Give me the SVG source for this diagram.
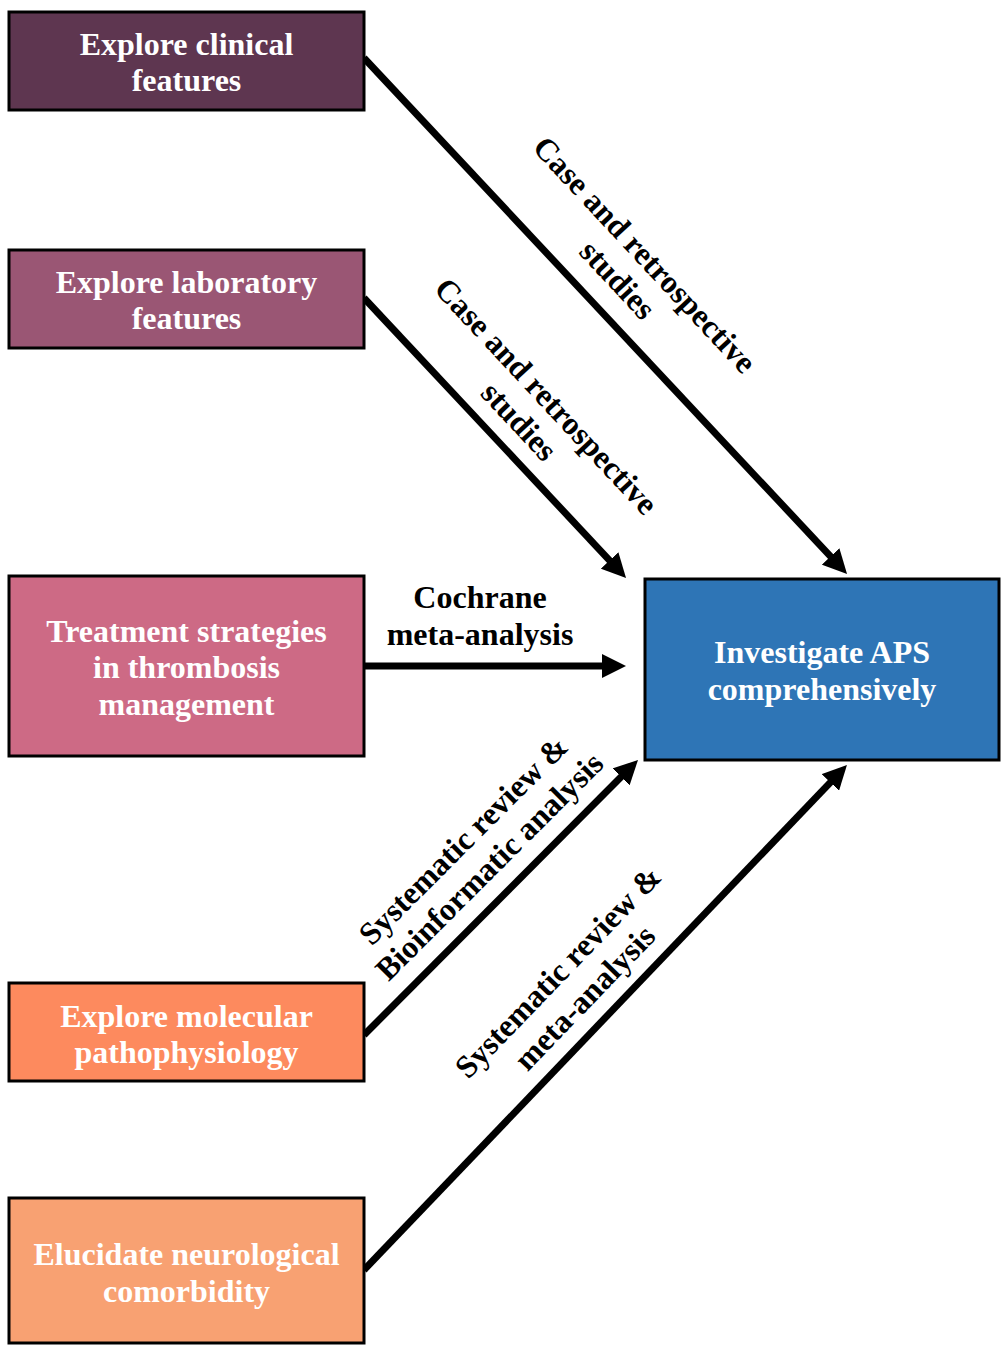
<svg xmlns="http://www.w3.org/2000/svg" width="1001" height="1349" viewBox="0 0 1001 1349">
<defs>
<style>
.box{stroke:#000;stroke-width:3}
.bt{font-family:"Liberation Serif","Times New Roman",serif;font-weight:bold;font-size:32px;fill:#fff;text-anchor:middle}
.lt{font-family:"Liberation Serif","Times New Roman",serif;font-weight:bold;font-size:32px;fill:#000;text-anchor:middle}
.conn{stroke:#000;stroke-width:7;fill:none;marker-end:url(#ah)}
</style>
<marker id="ah" markerUnits="userSpaceOnUse" markerWidth="24" markerHeight="24" refX="8" refY="12" orient="auto">
<path d="M0,0 L24,12 L0,24 z" fill="#000"/>
</marker>
</defs>
<rect width="1001" height="1349" fill="#fff"/>
<g id="connectors">
<line class="conn" x1="364" y1="58" x2="836.1" y2="562.3"/>
<line class="conn" x1="364" y1="298" x2="615.1" y2="566.3"/>
<line class="conn" x1="364" y1="666" x2="610" y2="666"/>
<line class="conn" x1="364" y1="1035" x2="626.7" y2="771.3"/>
<line class="conn" x1="364" y1="1270" x2="835.9" y2="776.6"/>
<g transform="translate(631.5,267) rotate(47)"><text class="lt" x="0" y="-7.5">Case and retrospective</text><text class="lt" x="0" y="29.5">studies</text></g>
<g transform="translate(533,408.5) rotate(47)"><text class="lt" x="0" y="-7.5">Case and retrospective</text><text class="lt" x="0" y="29.5">studies</text></g>
<text class="lt" x="480" y="608">Cochrane</text>
<text class="lt" x="480" y="645">meta-analysis</text>
<g transform="translate(476,853) rotate(-45)"><text class="lt" x="0" y="-7.5">Systematic review &amp;</text><text class="lt" x="0" y="29.5">Bioinformatic analysis</text></g>
<g transform="translate(571,984.5) rotate(-46)"><text class="lt" x="0" y="-7.5">Systematic review &amp;</text><text class="lt" x="0" y="29.5">meta-analysis</text></g>
</g>
<g id="n1"><rect class="box" x="9" y="12" width="355" height="98" fill="#5e3650"/><text class="bt" x="186.5" y="55">Explore clinical</text><text class="bt" x="186.5" y="91">features</text></g>
<g id="n2"><rect class="box" x="9" y="250" width="355" height="98" fill="#9a5674"/><text class="bt" x="186.5" y="293">Explore laboratory</text><text class="bt" x="186.5" y="329">features</text></g>
<g id="n3"><rect class="box" x="9" y="576" width="355" height="180" fill="#cd6a85"/><text class="bt" x="186.5" y="642">Treatment strategies</text><text class="bt" x="186.5" y="678">in thrombosis</text><text class="bt" x="186.5" y="715">management</text></g>
<g id="n4"><rect class="box" x="9" y="983" width="355" height="98" fill="#fd8a5e"/><text class="bt" x="186.5" y="1027">Explore molecular</text><text class="bt" x="186.5" y="1063">pathophysiology</text></g>
<g id="n5"><rect class="box" x="9" y="1198" width="355" height="145" fill="#f8a172"/><text class="bt" x="186.5" y="1265">Elucidate neurological</text><text class="bt" x="186.5" y="1302">comorbidity</text></g>
<g id="n6"><rect class="box" x="645" y="579" width="354" height="181" fill="#2e75b6"/><text class="bt" x="822" y="663">Investigate APS</text><text class="bt" x="822" y="700">comprehensively</text></g>
</svg>
